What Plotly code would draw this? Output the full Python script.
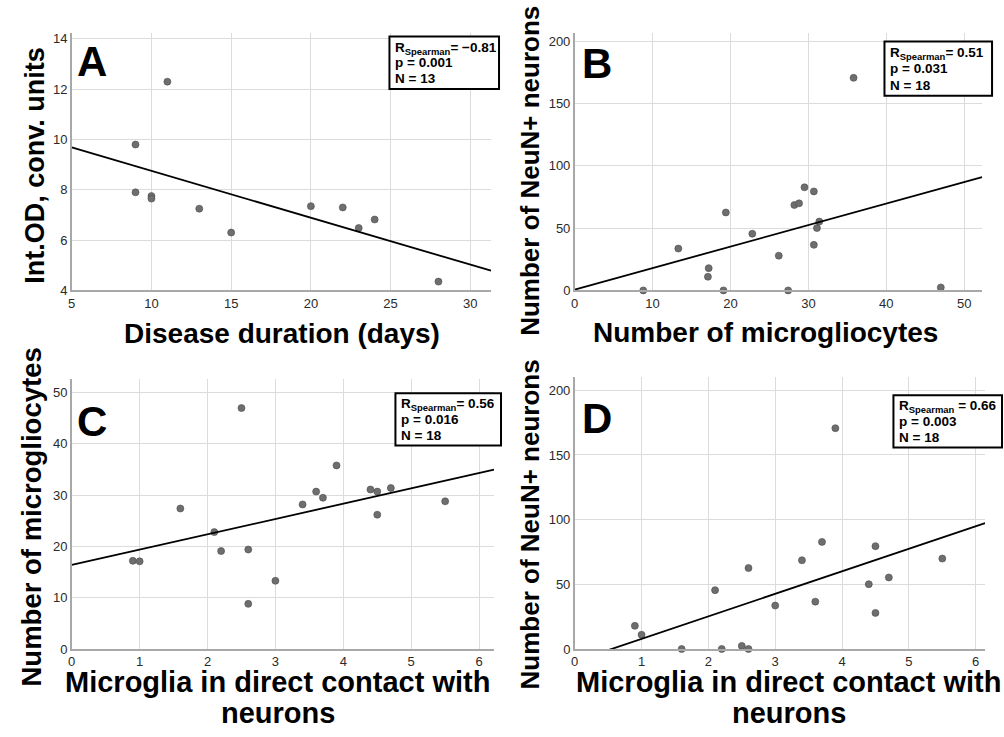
import numpy as np
import plotly.graph_objects as go

# ---------------- data ----------------
# Panel A: disease duration vs Int.OD
duration_days = [9, 9, 10, 10, 11, 13, 15, 20, 22, 23, 24, 28]
int_od = [9.8, 7.9, 7.75, 7.65, 12.3, 7.25, 6.3, 7.35, 7.3, 6.48, 6.82, 4.35]

# Panels B-D: per-sample values
contact = [0.9, 1.0, 1.6, 2.1, 2.2, 2.5, 2.6, 2.6, 3.0, 3.4, 3.6, 3.7, 3.9, 4.4, 4.5, 4.5, 4.7, 5.5]
microglia = [17.2, 17.1, 27.4, 22.8, 19.1, 47.0, 19.4, 8.8, 13.3, 28.2, 30.7, 29.5, 35.8, 31.1, 30.7, 26.2, 31.4, 28.8]
neurons = [17.9, 11.0, 0, 45.5, 0, 2.4, 62.6, 0, 33.6, 68.6, 36.6, 82.8, 170.7, 50.1, 79.5, 27.9, 55.3, 69.9]

panel_letters = ["A", "B", "C", "D"]
r_values = ["−0.81", "0.51", "0.56", "0.66"]
p_values = ["0.001", "0.031", "0.016", "0.003"]
n_values = ["13", "18", "18", "18"]

x_titles = [["Disease duration (days)"], ["Number of microgliocytes"],
            ["Microglia in direct contact with", "neurons"],
            ["Microglia in direct contact with", "neurons"]]
y_titles = ["Int.OD, conv. units", "Number of NeuN+ neurons",
            "Number of microgliocytes", "Number of NeuN+ neurons"]

# ---------------- layout helpers ----------------
W, H = 1004, 737
FONT = "Arial, Liberation Sans, sans-serif"


def px_x(v):
    return v / W


def px_y(v):
    return 1 - v / H


panels = [
    dict(x=duration_days, y=int_od, px=(68, 489), py=(32, 293), xr=[5, 31.3], yr=[4, 14.25], dx=5, dy=2),
    dict(x=microglia, y=neurons, px=(573, 982), py=(32, 293), xr=[0, 52.3], yr=[0, 207], dx=10, dy=50),
    dict(x=contact, y=microglia, px=(68, 492), py=(383, 656), xr=[0, 6.22], yr=[0, 52.6], dx=1, dy=10),
    dict(x=contact, y=neurons, px=(573, 985), py=(381, 656), xr=[0, 6.14], yr=[0, 210], dx=1, dy=50),
]

letter_pos = [(88, 61), (595, 63), (88, 426), (595, 423)]
# stats boxes: left, top, right, bottom
boxes = [(387, 36, 497, 89), (884, 41, 992, 96), (393, 397, 499, 450), (893, 399, 1002, 452)]
xtitle_pos = [[(279, 337)], [(765, 336)], [(275, 689), (275, 721)], [(788, 689), (788, 721)]]
xtitle_size = [28, 28, 29, 29]
ytitle_pos = [(31, 166), (528, 172), (28, 522), (528, 530)]
ytitle_size = [27, 26, 27.5, 26]

fig = go.Figure()
annotations = []
shapes = []

for i, p in enumerate(panels):
    k = "" if i == 0 else str(i + 1)
    xa, ya = "x" + k, "y" + k
    fig.add_trace(go.Scatter(
        x=p["x"], y=p["y"], mode="markers", xaxis=xa, yaxis=ya,
        marker=dict(size=7, color="#6e6e6e", line=dict(color="#4a4a4a", width=0.6)),
        showlegend=False, cliponaxis=False,
    ))
    slope, intercept = np.polyfit(p["x"], p["y"], 1)
    lx = np.array(p["xr"], dtype=float)
    fig.add_trace(go.Scatter(
        x=lx, y=slope * lx + intercept, mode="lines", xaxis=xa, yaxis=ya,
        line=dict(color="black", width=1.8), showlegend=False,
    ))
    common = dict(showgrid=True, gridcolor="#dcdcdc", gridwidth=1, zeroline=False,
                  showline=True, linecolor="#a8a8a8", linewidth=1.5, ticks="",
                  tickfont=dict(family=FONT, size=13, color="#2a2a2a"))
    fig.layout["xaxis" + k] = dict(domain=[px_x(p["px"][0]), px_x(p["px"][1])], range=p["xr"],
                                   dtick=p["dx"], tick0=0, anchor=ya, **common)
    fig.layout["yaxis" + k] = dict(domain=[px_y(p["py"][1]), px_y(p["py"][0])], range=p["yr"],
                                   dtick=p["dy"], tick0=0, anchor=xa, **common)

    # panel letter
    annotations.append(dict(x=px_x(letter_pos[i][0]), y=px_y(letter_pos[i][1]), xref="paper", yref="paper",
                            text="<b>%s</b>" % panel_letters[i], showarrow=False,
                            font=dict(family=FONT, size=42, color="black"),
                            xanchor="center", yanchor="middle"))
    # stats box
    l, t, r, b = boxes[i]
    shapes.append(dict(type="rect", xref="paper", yref="paper",
                       x0=px_x(l), x1=px_x(r), y0=px_y(b), y1=px_y(t),
                       line=dict(color="black", width=2), fillcolor="white", layer="above"))
    eq = "= " if i < 3 else " = "
    lines = ["R<sub>Spearman</sub>%s%s" % (eq, r_values[i]),
             "p = %s" % p_values[i],
             "N = %s" % n_values[i]]
    step = (b - t - 4) / 3.0
    for j, ln in enumerate(lines):
        yc = t + 2 + step * (j + 0.5) + (1.5 if j == 0 else 0)
        annotations.append(dict(x=px_x(l + 4), y=px_y(yc), xref="paper", yref="paper",
                                text="<b>%s</b>" % ln, showarrow=False, align="left",
                                font=dict(family=FONT, size=13.5, color="black"),
                                xanchor="left", yanchor="middle"))
    # axis titles
    for txt, (tx, ty) in zip(x_titles[i], xtitle_pos[i]):
        annotations.append(dict(x=px_x(tx), y=px_y(ty), xref="paper", yref="paper",
                                text="<b>%s</b>" % txt, showarrow=False,
                                font=dict(family=FONT, size=xtitle_size[i], color="black"),
                                xanchor="center", yanchor="middle"))
    annotations.append(dict(x=px_x(ytitle_pos[i][0]), y=px_y(ytitle_pos[i][1]), xref="paper", yref="paper",
                            text="<b>%s</b>" % y_titles[i], showarrow=False, textangle=-90,
                            font=dict(family=FONT, size=ytitle_size[i], color="black"),
                            xanchor="center", yanchor="middle"))

fig.update_layout(
    width=W, height=H, margin=dict(l=0, r=0, t=0, b=0),
    paper_bgcolor="white", plot_bgcolor="white",
    annotations=annotations, shapes=shapes, showlegend=False,
)

fig.write_html("out.html", config={"displayModeBar": False},
               post_script="document.body.style.margin='0';")
